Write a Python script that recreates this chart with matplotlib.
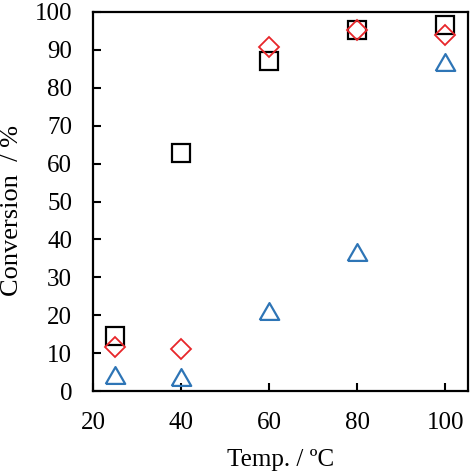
import numpy as np
import matplotlib
matplotlib.use('Agg')
from matplotlib import pyplot as plt

temp = [25, 40, 60, 80, 100]
conv_square = [14.5, 62.8, 87.0, 95.3, 96.7]
conv_diamond = [11.7, 11.2, 90.8, 95.3, 93.9]
conv_triangle = [4.3, 3.6, 21.0, 36.7, 86.8]

plt.rcParams['font.family'] = ['Liberation Serif', 'DejaVu Serif']
plt.rcParams['font.size'] = 18

fig = plt.figure(figsize=(4.74, 4.74), dpi=100)
ax = fig.add_axes([93 / 474, 1 - 391 / 474, 375 / 474, 379 / 474])

tri = [(-1, -0.866), (1, -0.866), (0, 0.866), (-1, -0.866)]

ax.plot(temp, conv_square, linestyle='none', marker='s', ms=12.5,
        mfc='none', mec='black', mew=1.6, clip_on=False)
ax.plot(temp, conv_diamond, linestyle='none', marker='D', ms=10,
        mfc='none', mec='#E8262A', mew=1.3, clip_on=False)
ax.plot(temp, conv_triangle, linestyle='none', marker=tri, ms=14,
        mfc='none', mec='#2E75B6', mew=1.6, clip_on=False)

ax.set_xlim(20, 105.2)
ax.set_ylim(0, 100)
ax.set_xticks([20, 40, 60, 80, 100])
ax.set_yticks(np.arange(0, 101, 10))
ax.tick_params(direction='in', length=6, width=1.5)
ax.tick_params(axis='y', pad=15)
ax.tick_params(axis='x', pad=15)
for s in ax.spines.values():
    s.set_linewidth(1.6)

ax.set_xlabel('Temp. / ºC', labelpad=11)
ax.set_ylabel('Conversion  / %', fontsize=19)
ax.yaxis.set_label_coords(-0.187, 0.475)

fig.savefig('out.png', dpi=100)
